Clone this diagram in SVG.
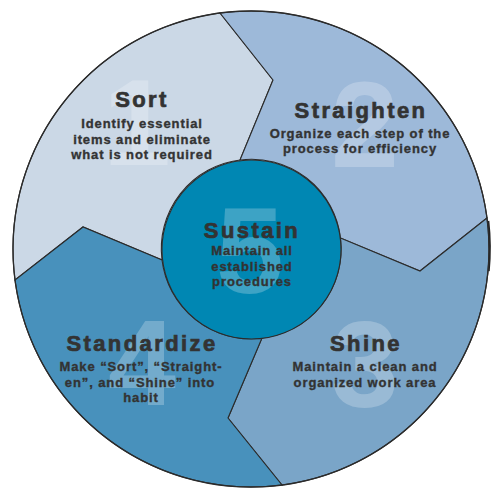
<svg xmlns="http://www.w3.org/2000/svg" width="500" height="500" viewBox="0 0 500 500">
  <style>
    .seg { stroke: #2b2b2b; stroke-width: 1.1; stroke-linejoin: miter; }
    .num { font-family: "Liberation Sans", Arial, sans-serif; font-weight: bold; font-size: 122px; fill: #ffffff; fill-opacity: 0.24; text-anchor: middle; }
    .title { font-family: "Liberation Sans", Arial, sans-serif; font-weight: bold; font-size: 22px; letter-spacing: 2.4px; fill: #333333; stroke: #333333; stroke-width: 0.7; text-anchor: middle; }
    .body { font-family: "Liberation Sans", Arial, sans-serif; font-weight: bold; font-size: 13px; letter-spacing: 0.9px; fill: #333333; stroke: #333333; stroke-width: 0.35; text-anchor: middle; }
  </style>
  <rect width="500" height="500" fill="#ffffff"/>

  <path d="M 487.6 221 A 238.5 238.5 0 0 1 488 271" fill="none" stroke="#222222" stroke-width="3.5"/>

  <g id="sort">
    <path class="seg" fill="#cbd8e6" d="M 15,280 L 83,227 L 162,260 A 89.5 89.5 0 0 1 240,160 L 273,80 L 220,13 A 238 238 0 0 0 15,280 Z"/>
    <text class="num" x="137" y="165">1</text>
    <text class="title" x="142" y="107">Sort</text>
    <text class="body" x="142" y="128">Identify essential</text>
    <text class="body" x="142" y="143.5">items and eliminate</text>
    <text class="body" x="142" y="159">what is not required</text>
  </g>

  <g id="straighten">
    <path class="seg" fill="#9db9d9" d="M 220,13 L 273,80 L 240,160 A 89.5 89.5 0 0 1 340.5,238 L 420,271 L 487,218 A 238 238 0 0 0 220,13 Z"/>
    <text class="num" x="365" y="167">2</text>
    <text class="title" x="361" y="118">Straighten</text>
    <text class="body" x="360" y="138">Organize each step of the</text>
    <text class="body" x="360" y="153">process for efficiency</text>
  </g>

  <g id="shine">
    <path class="seg" fill="#7aa5c8" d="M 487,218 L 420,271 L 340.5,238 A 89.5 89.5 0 0 1 262,338 L 228,418 L 282,485 A 238 238 0 0 0 487,218 Z"/>
    <text class="num" x="365" y="407">3</text>
    <text class="title" x="366" y="351">Shine</text>
    <text class="body" x="365" y="371">Maintain a clean and</text>
    <text class="body" x="365" y="386.5">organized work area</text>
  </g>

  <g id="standardize">
    <path class="seg" fill="#4891bc" d="M 282,485 L 228,418 L 262,338 A 89.5 89.5 0 0 1 162,260 L 83,227 L 15,280 A 238 238 0 0 0 282,485 Z"/>
    <text class="num" x="142" y="405">4</text>
    <text class="title" x="142" y="351">Standardize</text>
    <text class="body" x="141" y="371">Make “Sort”, “Straight-</text>
    <text class="body" x="140" y="386.5">en”,  and “Shine” into</text>
    <text class="body" x="141" y="402">habit</text>
  </g>

  <g id="sustain">
    <circle class="seg" cx="251.5" cy="249.5" r="89.5" fill="#0087b3"/>
    <text class="num" x="250" y="293">5</text>
    <text class="title" x="252" y="238">Sustain</text>
    <text class="body" x="252" y="255">Maintain all</text>
    <text class="body" x="252" y="271">established</text>
    <text class="body" x="252" y="286">procedures</text>
  </g>

  <circle cx="251" cy="249" r="238" fill="none" stroke="#2b2b2b" stroke-width="1.3"/>
</svg>
